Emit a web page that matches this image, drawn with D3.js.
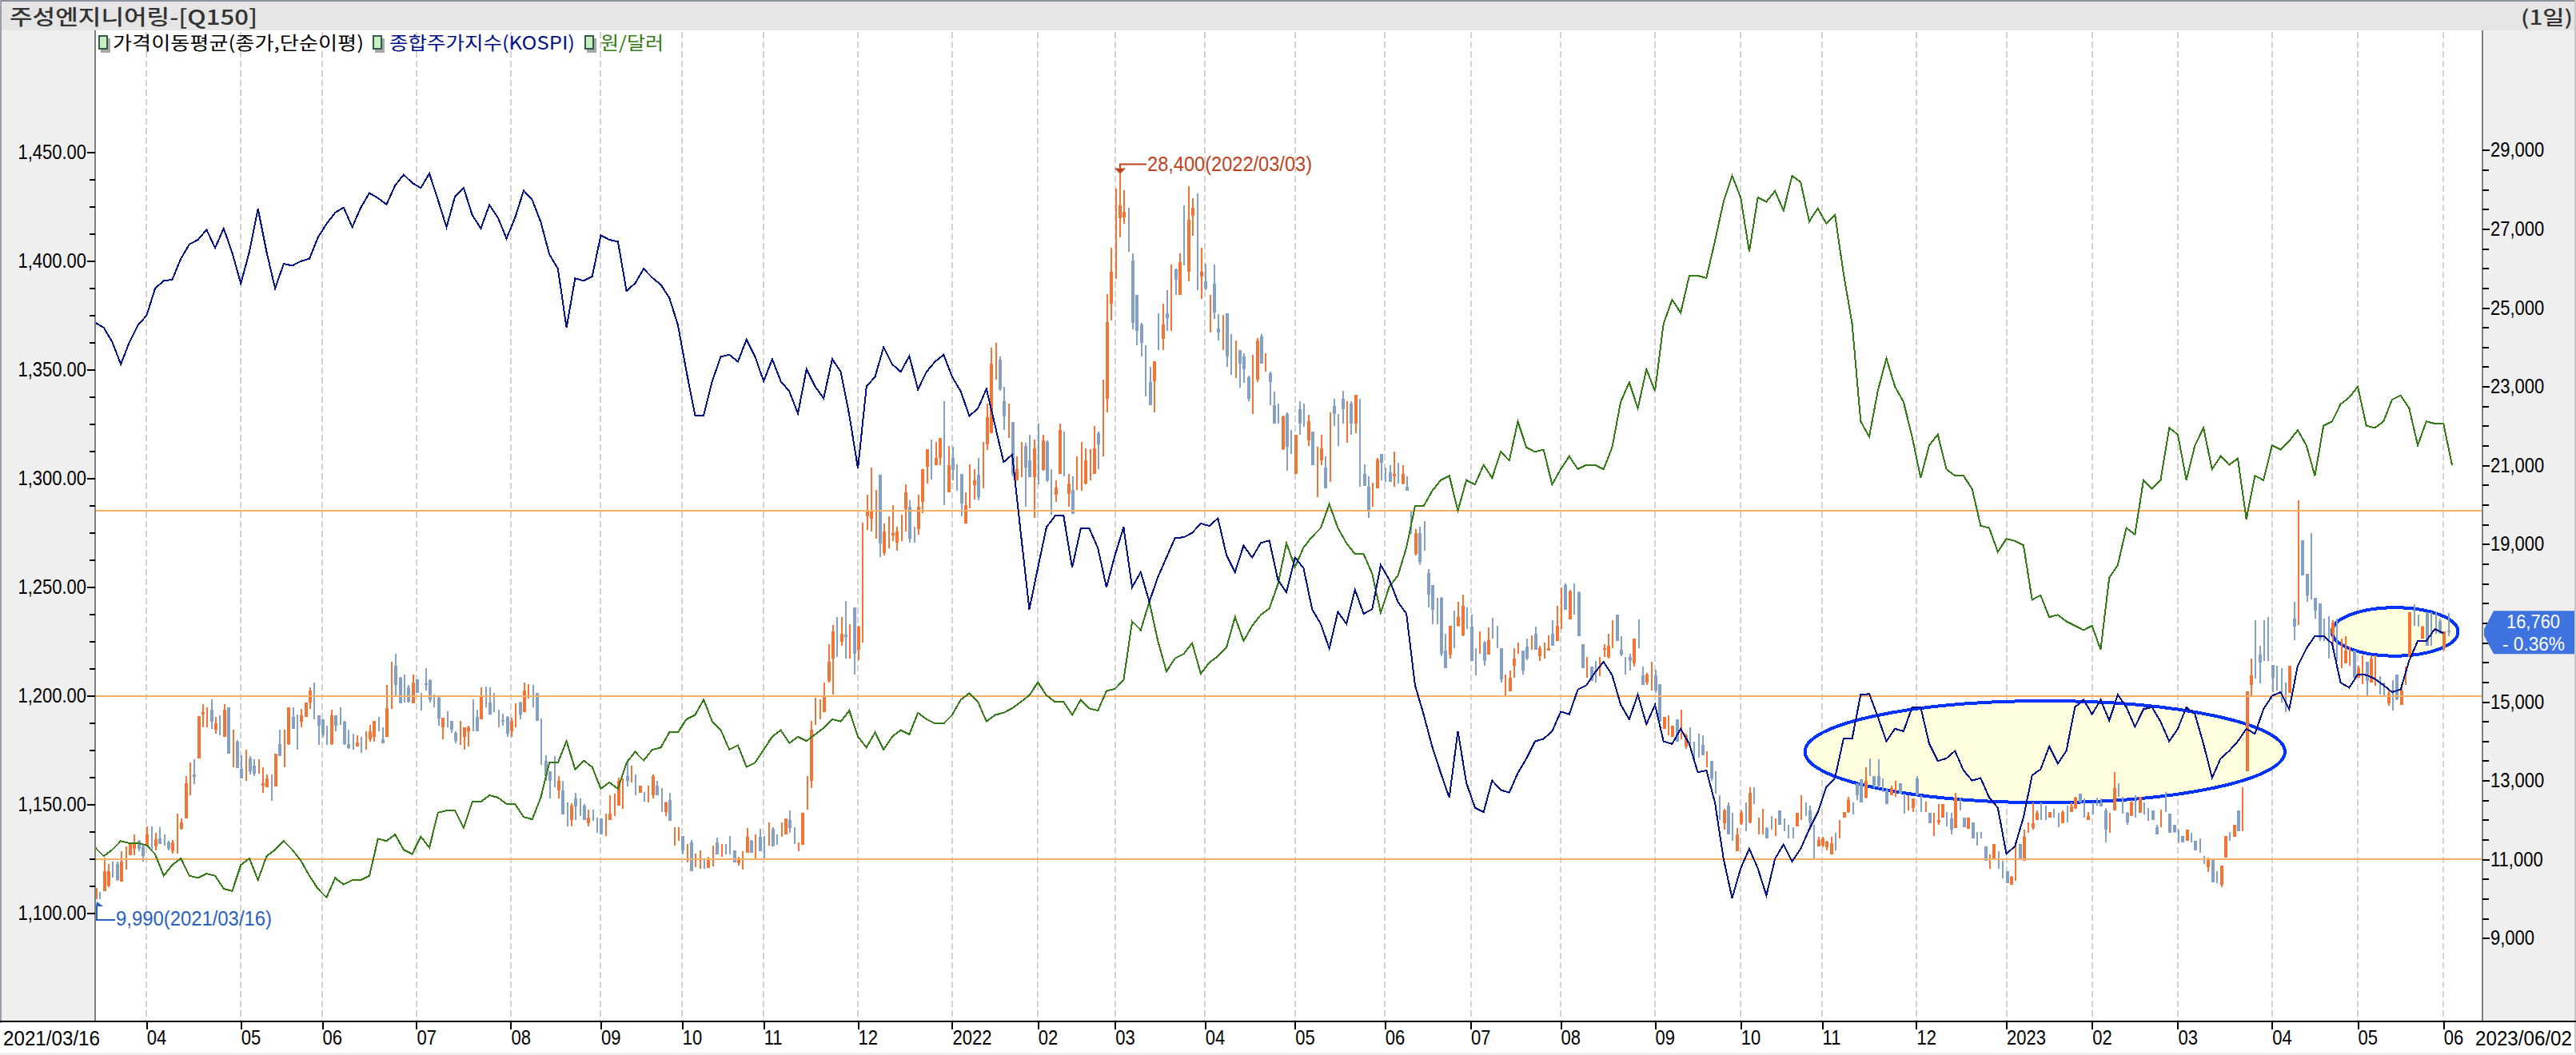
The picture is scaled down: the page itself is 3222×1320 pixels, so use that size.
<!DOCTYPE html>
<html><head><meta charset="utf-8">
<script src="https://cdn.jsdelivr.net/npm/d3@7/dist/d3.min.js"></script>
<style>
html,body{margin:0;padding:0;background:#fff;overflow:hidden}
svg{display:block}
.num{font-family:"Liberation Sans",sans-serif;font-size:25px}
.kr{font-family:"Noto Sans CJK KR",sans-serif}
</style></head><body>
<svg id="c" width="3222" height="1320"></svg>
<script>
const titleText = "주성엔지니어링-[Q150]";
const periodText = "(1일)";
const legendNames = ["가격이동평균(종가,단순이평)", "종합주가지수(KOSPI)", "원/달러"];
const monthTickDays = [12,34,53,75,97,118,137,156,178,200,220,238,259,280,301,321,342,364,384,403,425,446,466,486,508,528,548];
const monthTickLabels = ["04","05","06","07","08","09","10","11","12","2022","02","03","04","05","06","07","08","09","10","11","12","2023","02","03","04","05","06"];
const startDateLabel = "2021/03/16", endDateLabel = "2023/06/02";
const leftMajorTicks = [1100,1150,1200,1250,1300,1350,1400,1450];
// 17,000 sits under the last-price tag in the reference, so it has no visible label
const rightMajorTicks = [9000,11000,13000,15000,19000,21000,23000,25000,27000,29000];
const supportLevels = [19850,15150,11000];
const sampleStep = 2;
// KOSPI, every second trading day
const kospiValues = [
3069,3061,3038,3003,3038,3065,3080,3123,3135,3137,3170,3193,3200,3216,3187,3218,3179,3131,3181,3249,3181,3123,3162,3159,3166,3170,3204,3225,3243,3251,3220,3251,3274,3266,3256,3286,3303,3290,3282,3305,3263,3220,3269,3282,3239,3218,3255,
3235,3202,3235,3278,3263,3228,3177,3154,3061,3139,3135,3142,3207,3200,3197,3119,3131,3154,3140,3129,3108,3065,2991,2922,2922,2976,3015,3018,3007,3042,3015,2976,3011,2976,2960,2925,2995,2968,2949,3011,2991,2922,2838,2968,2983,3030,3003,
2991,3016,2963,2991,3007,3018,2983,2960,2921,2933,2964,2906,2848,2860,2736,2615,2681,2745,2763,2763,2681,2743,2743,2712,2650,2701,2745,2650,2674,2627,2666,2697,2728,2729,2736,2751,2747,2759,2701,2674,2716,2697,2720,2724,2662,2642,2697,
2680,2615,2592,2553,2611,2592,2646,2608,2615,2685,2662,2627,2608,2495,2449,2398,2356,2317,2422,2340,2301,2294,2344,2329,2325,2356,2379,2406,2410,2422,2453,2449,2488,2495,2515,2532,2511,2464,2441,2480,2433,2464,2406,2402,2426,2402,
2357,2360,2309,2220,2158,2205,2236,2205,2162,2220,2243,2216,2236,2267,2294,2334,2348,2410,2410,2480,2481,2445,2406,2426,2422,2460,2460,2402,2375,2379,2391,2360,2344,2348,2317,2301,2228,2240,2286,2352,2362,2398,2371,2391,2460,2472,2449,
2472,2439,2480,2460,2429,2457,2460,2437,2406,2426,2460,2449,2402,2348,2379,2391,2406,2426,2418,2457,2478,2484,2457,2526,2553,2573,2573,2561,2499,2491,2512,2511,2505,2495,2484,2488,2534,2565,2565,2584,2577];
// won per dollar, every second trading day
const krwValues = [
1130,1126,1129,1133,1132,1132,1131,1127,1117,1122,1125,1117,1116,1118,1117,1111,1110,1122,1125,1115,1126,1129,1133,1129,1124,1117,1111,1107,1116,1113,1115,1115,1117,1134,1133,1136,1129,1127,1135,1130,1146,1147,1147,1139,1151,1151,1154,
1153,1150,1150,1144,1143,1153,1169,1169,1179,1166,1170,1167,1157,1160,1157,1169,1174,1170,1175,1176,1183,1183,1189,1191,1198,1188,1184,1175,1177,1167,1169,1175,1181,1184,1178,1181,1179,1182,1185,1189,1188,1193,1181,1176,1183,1175,1181,
1184,1182,1192,1189,1187,1187,1191,1198,1201,1197,1188,1191,1192,1194,1197,1200,1206,1200,1197,1197,1191,1198,1194,1193,1202,1203,1207,1234,1230,1243,1225,1211,1217,1219,1224,1210,1215,1218,1222,1236,1225,1232,1237,1240,1251,1270,1259,
1268,1273,1277,1288,1277,1270,1265,1265,1256,1238,1250,1255,1268,1287,1287,1294,1299,1301,1285,1299,1297,1306,1300,1312,1308,1326,1314,1312,1313,1297,1304,1310,1304,1306,1306,1304,1314,1335,1344,1332,1350,1340,1371,1382,1376,1393,
1393,1392,1409,1427,1439,1429,1404,1429,1427,1432,1423,1439,1436,1418,1424,1417,1421,1394,1371,1326,1319,1340,1355,1342,1335,1319,1300,1315,1320,1304,1301,1301,1295,1278,1277,1266,1272,1271,1269,1244,1246,1236,1237,1234,1232,1230,1232,
1221,1254,1260,1277,1274,1299,1295,1299,1323,1320,1299,1315,1323,1304,1310,1306,1309,1281,1301,1299,1315,1313,1317,1322,1315,1301,1324,1326,1334,1337,1342,1324,1323,1326,1336,1338,1332,1315,1326,1325,1325,1306];
// open, high, low, close for each trading day
const candles2021 = [
[9990,10270,9990,10270],[10110,10180,10000,10100],[10200,11050,10200,10700],[10330,10880,10300,10700],[10700,10950,10540,10690],[10880,10950,10450,10470],[10430,11200,10430,10950],[10900,11320,10740,10900],[11110,11420,11110,11380],[11260,11630,11110,11380],
[11470,11500,11200,11260],[11320,11380,10950,11090],[11340,11840,11340,11630],[11510,11840,11200,11500],[11320,11670,11220,11510],[11530,11820,11380,11380],[11450,11630,11340,11440],[11440,11470,11220,11260],[11200,11500,11140,11420],[11600,12160,11140,11600],
[11780,12040,11750,11940],[12040,13120,12040,12930],[13000,13460,12620,13000],[13150,13530,12910,13100],[13550,14630,13550,14630],[14670,14940,14360,14740],[14600,14860,14360,14600],[14800,15070,14320,14490],[14280,14610,14180,14450],[14400,14650,14150,14390],
[14110,14940,14110,14800],[14860,14860,13680,13680],[14000,14300,13330,14000],[13990,14020,13310,13310],[13290,13640,13060,13060],[13400,13780,13000,13400],[13550,13620,13160,13240],[13370,13530,13120,13180],[13350,13530,13180,13350],[12870,13330,12680,12930],
[12830,13160,12830,13060],[12900,13160,12490,12890],[12860,13680,12860,13680],[13930,14300,13620,13620],[13900,14300,13330,13900],[13930,14860,13910,14860],[14610,14860,14320,14320],[14250,14670,13780,14240],[14490,14820,14360,14650],[14610,14980,14610,14980],
[14980,15360,14820,15290],[14950,15480,14550,14940],[14650,14650,13900,14400],[14550,14550,14110,14170],[14100,14400,13900,14090],[13930,14800,13900,14650],[14650,14650,14240,14400],[14650,14860,14420,14640],[14490,14510,13900,13930],[13930,14300,13800,13830],
[14000,14180,13780,13990],[13870,14150,13870,13960],[13950,14110,13700,13940],[14000,14240,13780,14000],[14050,14420,13990,14240],[14110,14510,13990,14510],[14400,14610,14240,14390],[14050,14360,13950,13950],[14100,15420,14100,14830],[15400,16020,14820,15400],
[15910,16220,15140,15420],[15600,15630,14960,14960],[15300,15690,14980,15290],[15360,15420,14980,15010],[14960,15690,14960,15480],[15570,15570,15230,15230],[15000,15230,14770,14990],[15460,15850,15290,15420],[15540,15570,14980,15050],[15000,15190,14860,14990],
[15110,15140,14400,14580],[14360,14600,14050,14600],[14500,14760,14360,14490],[14520,14520,14200,14300],[14200,14240,13950,14000],[14200,14510,13910,14200],[14110,14360,13780,14360],[14240,14390,13870,14360],[14600,15070,14240,14590],[14610,14800,14240,14240],
[14550,15360,14550,15170],[15100,15380,14860,15090],[14980,15360,14670,14670],[14900,15230,14740,14890],
[14600,14800,14360,14590],[14540,14690,14400,14490],[14610,14630,14110,14180],[14240,14590,14110,14520],[14500,14960,14360,14500],[14980,15010,14550,14670],[14740,15480,14740,15290],[15200,15440,15080,15200],[15100,15420,14860,15090],[15230,15230,14510,14510],
[14000,14580,13390,13990],[13490,13640,13000,13120],[13240,13240,12540,13000],[13000,13620,12830,12990],[12750,13120,12540,13000],[12750,13000,12130,12130],[12200,12440,11840,12190],[12000,12430,11840,12370],[12540,12680,12000,12340],[12200,12540,12090,12190],
[12370,12410,12000,12000],[11920,12270,11840,12060],[12150,12270,11970,12140],[11950,12060,11670,11940],[12040,12040,11630,11630],[11900,12160,11590,11900],[12000,12620,12000,12160],[12300,12660,12090,12300],[12370,13080,12370,13000],[12700,13060,12280,12700],
[13120,13530,12860,13000],[13100,13380,12960,13100],[13000,13160,12620,12990],[12680,12870,12680,12870],[12600,12710,12460,12590],[12600,12870,12440,12600],[12620,13160,12540,13120],[12870,12990,12620,12620],[12600,12810,12210,12590],[12210,12470,12090,12440],
[12500,12680,11970,11970],[11400,11820,11350,11400],[11600,11820,11470,11600],[11590,11590,11130,11220],[11100,11380,10920,11100],[11440,11500,10700,10700],[10900,11150,10800,10900],[11000,11220,10770,11000],[10920,11010,10760,10910],[10790,11070,10790,11000],
[11000,11340,10820,11000],[11420,11550,11130,11130],[11120,11380,11070,11120],[11300,11380,11130,11290],[11300,11590,11130,11290],[11220,11220,10920,10920],[10900,11070,10850,11000],[11000,11200,10750,11000],[11160,11790,11160,11570],[11470,11500,11160,11160],
[11200,11630,11030,11200],[11570,11770,11200,11200],[11400,11590,11030,11390],[11400,11940,11340,11400],[11770,11820,11320,11320],[11500,11630,11370,11490],[11700,11940,11570,11700],[11630,12040,11630,12040],[12000,12240,11670,11800],[11500,11820,11380,11490],
[11300,11420,11200,11300],[11360,12190,11360,12190],[12300,13120,12260,12300],[13000,14510,12810,14300],[14800,15110,14420,14800],[14800,15070,14550,14800],[14740,15480,14740,15170],[15520,16470,15480,16020],[16100,16940,15190,16780],[16600,17160,16140,16590],
[16530,17160,16410,16720],[16700,17550,16100,16650],[16500,16970,16100,16500],[17400,17400,15690,16220],[16310,16930,16060,16910],[19000,19540,16510,19000],[19700,20260,19370,19830],[19640,20940,19330,19830],[19800,20380,19140,19800],[20760,20760,18670,19020],
[18770,19520,18710,19330],[19300,19700,18890,19300],[19210,19990,19080,19290],
[19040,19450,18830,19330],[19400,19740,19080,19400],[19890,20510,19330,20320],[19950,20110,19040,19140],[19200,19450,19040,19190],[19390,20260,19240,19950],[20070,20910,19790,20910],[20960,21400,20530,21400],[20700,21650,20630,20690],[21010,21600,21010,21190],
[21190,21690,21010,21690],[20500,22620,19990,20490],[20320,21500,20320,21010]];
const candles2022 = [
[21190,21470,20610,20880],[20700,21030,20360,20690],[20790,20790,19700,20040],[19520,20320,19520,19990],[20000,21030,19910,20000],[20490,20910,20140,20610],[20760,21190,20110,20200],[20800,21600,20410,20800],[21540,22560,21380,22220],[21810,23990,21810,23590],
[23500,24110,23180,23500],[23680,23760,22900,22930],[22620,23000,21900,22250],[22000,22560,21690,22000],[22100,22100,20730,20760],[20610,21230,20610,20910],[20900,21600,20700,20900],[21500,21570,19950,20950],[21130,21770,20700,20700],[20700,21650,19670,21440],
[21500,22060,20510,21490],[20880,21770,20860,21630],[21600,21630,20570,20610],[20000,20910,19740,19990],[20260,20610,20070,20440],[20780,22060,20780,21900],[21500,21850,20730,21490],[20280,20790,19950,20530],[20380,20730,19760,19760],[20800,21230,20380,20800],
[21000,21600,20360,21000],[20530,21440,20510,21130],[20900,21400,20610,20900],[20780,22000,20780,21440],[21810,21850,20910,21530],[22000,23180,21230,22000],[22680,25350,22350,24640],[25100,26530,24670,25910],[26500,28020,25730,26500],[27280,28400,26780,27590],
[27300,27990,27130,27440],[27000,27530,26410,26990],[26200,26380,24460,24610],[25330,25330,24050,24420],[24580,24610,23760,24110],[23500,24050,22740,23490],[23120,23490,22520,22520],[23140,23640,22350,23640],[24000,24860,23920,23990],[24210,25100,23920,24580],
[24860,25450,24420,24730],[24500,26100,24420,24500],[25970,26000,25320,25720],[25320,26380,25320,26160],[26500,27590,26070,26490],[25910,28090,25660,27240],[27340,27770,26820,27530],[26500,27900,25440,26490],[25790,26530,25230,25910],[25660,26120,25450,25480],
[24900,25330,24380,24900],[25600,26100,24710,24880],[24480,24830,24170,24380],[24400,24820,23920,24400],[24860,24860,23490,23760],[24000,24330,23300,23990],[23700,24170,23220,23700],[23920,23920,22970,23590],[23760,23840,23090,23430],[23240,23270,22620,22680],
[23000,23800,22310,23000],[23180,24230,23120,24170],[24260,24330,23580,23580],[23600,23840,23370,23600],[23340,23370,22520,23120],[22520,22870,22060,22060],[22300,22560,22060,22290],[21400,22270,21380,22250],[22310,22350,20860,21480],[21800,21900,21280,21790],
[20780,21780,20780,21780],
[22430,22620,21780,22060],[22100,22560,21980,22090],[21630,22280,21500,22120],[21850,21850,21010,21010],[21000,21480,20200,21000],[21130,21780,21010,21440],[20940,21230,20410,20410],[21000,22350,20570,21000],[22500,22680,22000,22310],[21500,22310,21500,21490],
[22680,22890,22060,22430],[21500,22620,21570,21500],[22560,22620,21780,22060],[22060,22780,21810,22780],[21000,22680,20450,20990],[20790,21030,20480,20480],[20450,20730,19670,19830],[20000,20560,19950,20000],[20410,21190,20410,21150],[21280,21280,20610,21070],
[20700,20940,20570,20690],[20820,21010,20570,20570],[20730,21350,20450,20780],[20800,21070,20530,20790],[20530,21010,20510,20780],[20450,20720,20360,20360],[19400,19830,19250,19390],[18750,19390,18710,19270],[19270,19450,18460,18540],[19000,19580,18830,18990],
[18270,18360,17400,17720],[17960,17960,16970,17340],[17200,17630,16970,17190],[17630,17650,16160,16220],[16290,16720,15860,15860],[16190,16930,16100,16930],[16900,17310,16350,16890],[16930,17530,16910,17160],[16680,17720,16660,17430],[17000,17400,16850,16990],
[16910,17220,16040,16040],[16000,16350,15670,15990],[16500,16780,16220,16500],[16510,16535,15910,16040],[16190,16880,16190,16560],[16600,17130,16600,16590],[16400,16930,16350,16390],[16350,16350,15480,15560],[15200,15690,15170,15200],[15270,15790,15270,15600],
[15920,16350,15600,16100],[16300,16510,16220,16300],[16290,16290,15690,15790],[16390,16600,16060,16100],[16400,16680,16310,16400],[16720,16910,16310,16310],[16160,16410,16040,16350],[16300,16510,16090,16300],[16290,16680,16290,16350],[16720,17060,16410,16410],
[16535,17430,16535,16930],[17000,17900,16850,17000],[17960,18000,17340,17340],[17090,17840,17090,17800],[17500,18000,17220,17490],[17780,17800,16660,16660],[16470,16470,15860,15860],[15800,16140,15600,15800],[15890,15890,15520,15520],[15800,16040,15480,15790],
[15800,16140,15640,15800],[16310,16470,16140,16350],[16140,16720,16100,16410],[16600,17060,16350,16600],[17220,17220,16535,16535],[16310,16660,16160,16190],[15900,16140,15690,15890],[16140,16220,15790,16040],[15980,16600,15890,16600],[16700,17090,16350,16690],
[15670,15890,15420,15420],[15480,15730,15420,15690],[15600,16010,15290,15600],[15670,15810,15230,15290],[15440,15440,14490,14490],[14320,14610,14320,14610],[14300,14650,14150,14300],[14110,14400,14110,14390],[14550,14550,13990,13990],[14300,14800,14050,14300],
[13870,14190,13800,14150],[14000,14360,13870,13990],[13700,13990,13550,13690],
[13900,14180,13580,13890],[13900,14150,13650,13650],[13500,13740,13330,13500],[13490,13490,13000,13060],[13000,13240,12660,12990],[12400,12620,12000,12390],[11920,12290,11750,12250],[12370,12440,11630,11630],[11800,12190,11470,11790],[11200,11790,11200,11630],
[11920,12250,11880,12190],[12000,12440,11720,11990],[11940,12830,11920,12680],[12450,12830,12410,12440],[11800,12060,11630,11800],[11800,12290,11630,11800],[11790,11820,11530,11530],[11900,12090,11750,11890],[11800,12040,11590,11800],[12250,12250,11880,11880],
[11800,12040,11720,11790],[11700,11880,11530,11690],[11700,11820,11530,11690],[11840,12190,11840,12190],[12300,12620,12000,12300],[12300,12440,12090,12290],[12250,12370,11750,11940],[11500,11880,11010,11490],[11320,11570,11320,11500],[11340,11570,11300,11540],
[11300,11470,11220,11450],[11130,11570,11130,11400],[11400,11670,11220,11390],[11600,12000,11530,11600],[12060,12210,12060,12200],[12200,12580,12190,12500],[12250,12440,12130,12240],[12930,12930,12500,12620],[13030,13030,12440,12440],[12560,13330,12540,13000],
[13200,13550,13120,13190],[13120,13120,12810,12870],[13120,13530,12810,12870],[12900,13060,12710,12890],[12740,12810,12400,12400],[12620,12870,12620,12800],[12700,13000,12580,12700],[12930,12930,12660,12660],[12300,12660,12160,12290],[12400,12620,12250,12400],
[12310,12540,12210,12540],[13060,13120,12620,12620],[12400,12620,12210,12390],[12300,12460,12210,12300],[12190,12190,11920,11920],[11800,12190,11590,11800],[11940,12410,11880,12000],[12060,12410,12060,12410],[11950,12210,11840,11940],[12040,12190,11630,11750],
[11790,12680,11790,12560],[12400,12560,12250,12390],[12060,12060,11820,11820],[11770,12060,11770,12060],[11940,11940,11530,11530],[11500,11690,11340,11490],[11600,11690,11530,11590],[11320,11320,10970,10970],[10900,11130,10760,10900],[11010,11380,11010,11380],
[11000,11200,10760,10990],[10800,10970,10510,10790]];
const candles2023 = [
[10700,10700,10390,10390],[10350,10580,10350,10550],[11000,11420,10450,11000],[11380,11380,11010,11010],[10970,11750,10970,11570],[11800,11940,11670,11800],[11790,12440,11750,11920],[12000,12250,12000,12190],[12100,12440,12000,12090],[12100,12370,12000,12090],
[12060,12210,12060,12200],[12100,12290,12060,12090],[12000,12190,11820,11990],[11920,12250,11920,12200],[12100,12370,11940,12090],[12210,12440,12210,12350],[12290,12590,12290,12560],[12660,12660,12440,12440],[12300,12540,12060,12290],[12000,12210,12000,12100],
[12300,12440,12130,12290],
[12400,12560,12370,12390],[12450,12540,12340,12340],[12250,12310,11440,11750],[11900,12190,11670,11900],[12250,13210,12250,12810],[12700,12930,12590,12690],[12400,12590,12160,12390],[12190,12210,11880,11940],[12090,12500,12090,12450],[12300,12620,12060,12290],
[12190,12580,12190,12580],[12300,12440,12130,12290],[12100,12310,11970,12090],[12250,12250,12000,12000],[11820,11880,11630,11630],[11850,12270,11820,11850],[12400,12710,12210,12390],[12160,12160,11670,11670],[11880,11880,11670,11700],[11600,11750,11440,11590],
[11590,11590,11420,11420],[11470,11750,11470,11750],[11550,11670,11440,11540],[11470,11470,11220,11220],[11300,11540,11170,11290],[11000,11090,10880,10990],[10800,11040,10670,11010],[10980,10980,10425,10425],[10600,10700,10390,10590],[10350,10850,10300,10850],
[11050,11590,11050,11590],[11500,11690,11470,11490],[11570,11880,11570,11880],[12250,12250,11720,11720],[12000,12830,11720,12000],[13240,15260,13240,15260],[15420,16090,15140,15670],[16500,17060,15580,16490],[16200,16410,15470,16000],[16500,17060,16040,16490],
[17000,17150,16040,16990],[15940,15940,15240,15600],[15600,15910,15280,15590],[15300,15850,14980,15290],[15000,15480,14740,14990],[15230,15910,15230,15910],[17100,17530,16570,16900],[18000,20110,16950,18000],[19090,19090,18200,18200],[18250,18250,17530,17700],
[18000,19290,17590,17990],[17630,17630,17100,17320],[17500,17500,16535,16600],[16900,17100,16535,16890],[17000,17170,16100,16990],[16720,17060,16390,17000],[16700,17100,16040,16690],[16200,16600,15850,16200],[15980,16660,15980,16290],[16000,16390,15910,16000],
[16290,16290,15600,15600],[15600,15910,15600,15850],[15800,16170,15450,15800],[16020,16020,15170,15520],[15480,16170,15480,16100],[15700,16170,15400,15700],[15400,15640,15190,15390],[15350,15480,15140,15340],[14960,15290,14900,15200],[15200,15540,14770,15190],
[15690,15690,15050,15070],[14920,15360,14920,15290],[15500,15890,15420,15500],[16130,17280,16130,17280],[17000,17470,16930,16990],[16900,17220,16900,16890],[16600,16930,16600,16900],[17280,17280,16410,16410],[16800,17280,16430,16790],[17000,17280,16720,16990],
[17050,17100,16720,16750],[16350,16780,16290,16780],[16800,17250,16660,16760]];
const highlightDays = [[399,511],[522,551.4]];
const highlightPrices = [[15020,12440],[17390,16160]];
const maxMark = {day:239, price:28400, label:"28,400(2022/03/03)"};
const minMark = {day:0, price:9990, label:"9,990(2021/03/16)"};
const lastPrice = 16760, lastChange = "- 0.36%";

const candles = candles2021.concat(candles2022, candles2023);
const W=3222, plotL=119, plotR=3105, plotT=38, plotB=1278;
const x = d3.scaleLinear().domain([0,549]).range([119,3061.6]);
const yR = d3.scaleLinear().domain([9000,29000]).range([1173.8,187.8]);
const yL = d3.scaleLinear().domain([1100,1450]).range([1142,190]);
const yK = d3.scaleLinear().domain([2155,3305]).range([1126,217]);
const svg = d3.select("#c");
const css = {up:"#f27535",down:"#84a0c4",kospi:"#00108c",krw:"#317a14",ref:"#f8b066",grid:"#d2d2d2",hl:"#0033ff",fill:"#ffffe0",tag:"#3f73e0",maxc:"#c0421c",minc:"#2a60c0",panel:"#efefef",bar:"#e5e5e5",frame:"#808080"};

svg.append("rect").attr("width",W).attr("height",1320).attr("fill","#fff");
svg.append("rect").attr("x",0).attr("y",38).attr("width",plotL).attr("height",plotB-38).attr("fill",css.panel);
svg.append("rect").attr("x",plotR).attr("y",38).attr("width",W-plotR).attr("height",plotB-38).attr("fill",css.panel);
svg.append("rect").attr("x",0).attr("y",0).attr("width",W).attr("height",38).attr("fill",css.bar);
svg.append("rect").attr("x",0).attr("y",0).attr("width",W).attr("height",2).attr("fill","#8a8f9a");
svg.append("rect").attr("x",0).attr("y",0).attr("width",2).attr("height",1280).attr("fill","#9a9ea8");
svg.append("rect").attr("x",3220).attr("y",0).attr("width",2).attr("height",1320).attr("fill","#c8c8c8");
svg.append("rect").attr("x",0).attr("y",1317).attr("width",W).attr("height",3).attr("fill",css.panel);

// header
svg.append("text").attr("class","kr").attr("x",12).attr("y",31).attr("font-size",26).attr("font-weight",500).attr("fill","#333").attr("textLength",310).attr("lengthAdjust","spacingAndGlyphs").text(titleText);
svg.append("text").attr("class","kr").attr("x",3153).attr("y",31).attr("font-size",25).attr("font-weight",500).attr("fill","#333").attr("textLength",65).attr("lengthAdjust","spacingAndGlyphs").text(periodText);

// month grid
svg.append("g").selectAll("line").data(monthTickDays).join("line")
 .attr("x1",d=>Math.round(x(d))).attr("x2",d=>Math.round(x(d))).attr("y1",40).attr("y2",plotB)
 .attr("stroke",css.grid).attr("stroke-width",2).attr("stroke-dasharray","8 4").attr("shape-rendering","crispEdges");

// legend
const legendX=[123,466,731], legendTextX=[141,487,751], legendColor=["#000","#00108c","#317a14"], legendLen=[314,232,79];
const lg=svg.append("g");
legendNames.forEach((n,i)=>{
 lg.append("rect").attr("x",legendX[i]+3).attr("y",48).attr("width",12).attr("height",18).attr("fill","#a8a8a8");
 lg.append("rect").attr("x",legendX[i]+1).attr("y",45).attr("width",10).attr("height",16).attr("fill","#c6f0c0").attr("stroke","#35584c").attr("stroke-width",2);
 lg.append("text").attr("class","kr").attr("x",legendTextX[i]).attr("y",62).attr("font-size",23).attr("fill",legendColor[i]).attr("textLength",legendLen[i]).attr("lengthAdjust","spacingAndGlyphs").text(n);
});

// highlighted ellipses
svg.append("g").selectAll("ellipse").data(highlightDays).join("ellipse")
 .attr("cx",d=>(x(d[0])+x(d[1]))/2).attr("rx",d=>(x(d[1])-x(d[0]))/2)
 .attr("cy",(d,i)=>(yR(highlightPrices[i][0])+yR(highlightPrices[i][1]))/2)
 .attr("ry",(d,i)=>(yR(highlightPrices[i][1])-yR(highlightPrices[i][0]))/2)
 .attr("fill",css.fill).attr("stroke",css.hl).attr("stroke-width",4).attr("shape-rendering","crispEdges");

// candles
const cg=svg.append("g").attr("shape-rendering","crispEdges");
const color=d=>d[3]<d[0]?css.down:css.up;
cg.selectAll("rect.w").data(candles).join("rect").attr("class","w")
 .attr("x",(d,i)=>Math.round(x(i))).attr("width",2)
 .attr("y",d=>yR(d[1])).attr("height",d=>yR(d[2])-yR(d[1])).attr("fill",color);
cg.selectAll("rect.b").data(candles.filter(d=>Math.abs(d[0]-d[3])>20)).join("rect").attr("class","b")
 .attr("x",d=>Math.round(x(candles.indexOf(d)))-1).attr("width",4)
 .attr("y",d=>yR(Math.max(d[0],d[3]))).attr("height",d=>Math.max(1,Math.abs(yR(d[0])-yR(d[3])))).attr("fill",color);

// support levels
svg.append("g").selectAll("line").data(supportLevels).join("line")
 .attr("x1",plotL).attr("x2",plotR).attr("y1",d=>Math.round(yR(d))).attr("y2",d=>Math.round(yR(d)))
 .attr("stroke",css.ref).attr("stroke-width",2).attr("shape-rendering","crispEdges");

// lines
const lineFor=y=>d3.line().x((d,i)=>x(i*sampleStep)).y(d=>y(d));
svg.append("path").datum(krwValues).attr("d",lineFor(yL)).attr("fill","none").attr("stroke",css.krw).attr("stroke-width",2).attr("shape-rendering","crispEdges");
svg.append("path").datum(kospiValues).attr("d",lineFor(yK)).attr("fill","none").attr("stroke",css.kospi).attr("stroke-width",2).attr("shape-rendering","crispEdges");

// frame
svg.append("rect").attr("x",plotL-1).attr("y",38).attr("width",2).attr("height",plotB-38).attr("fill",css.frame);
svg.append("rect").attr("x",plotR-1).attr("y",38).attr("width",2).attr("height",plotB-38).attr("fill",css.frame);
svg.append("rect").attr("x",0).attr("y",plotB-1).attr("width",W).attr("height",2).attr("fill","#000");

// axes
const styleAxis=g=>{g.select(".domain").remove();g.selectAll("line").attr("stroke","#000").attr("stroke-width",2).attr("shape-rendering","crispEdges");g.selectAll("text").attr("class","num").attr("fill","#000");};
const leftMinor=d3.range(1100,1450.1,12.5).filter(v=>!leftMajorTicks.includes(v));
const rightMinor=d3.range(9000,29000.1,500).filter(v=>!rightMajorTicks.includes(v));
svg.append("g").attr("transform",`translate(${plotL},0)`).call(d3.axisLeft(yL).tickValues(leftMinor).tickSize(7).tickFormat("")).call(styleAxis);
svg.append("g").attr("transform",`translate(${plotL},0)`).call(d3.axisLeft(yL).tickValues(leftMajorTicks).tickSize(10).tickPadding(1).tickFormat(d3.format(",.2f"))).call(styleAxis);
svg.append("g").attr("transform",`translate(${plotR},0)`).call(d3.axisRight(yR).tickValues(rightMinor).tickSize(8).tickFormat("")).call(styleAxis);
svg.append("g").attr("transform",`translate(${plotR},0)`).call(d3.axisRight(yR).tickValues(rightMajorTicks).tickSize(9).tickPadding(1).tickFormat(d3.format(","))).call(styleAxis);
const xAxis=svg.append("g").attr("transform",`translate(0,${plotB})`).call(d3.axisBottom(x).tickValues(monthTickDays).tickSize(10).tickPadding(1).tickFormat((d,i)=>monthTickLabels[i])).call(styleAxis);
xAxis.selectAll("text").attr("text-anchor","start").attr("x",0).attr("y",11);

// the reference's numerals are narrower than Liberation Sans: condense the tick labels uniformly
svg.selectAll("text.num").each(function(){
  const len=this.getComputedTextLength();
  if(len>0) d3.select(this).attr("textLength",(len*0.88).toFixed(1)).attr("lengthAdjust","spacingAndGlyphs");
});

// labels fitted to the reference's own widths
const fitted=(px,py,len,fill,txt,size)=>svg.append("text").attr("class","num").attr("x",px).attr("y",py).attr("fill",fill)
  .attr("textLength",len).attr("lengthAdjust","spacingAndGlyphs").style("font-size",(size||25)+"px").text(txt);
fitted(4,1308,121,"#000",startDateLabel);
fitted(3096,1308,121,"#000",endDateLabel);

// max / min marks
const mx=x(maxMark.day)+1, my=yR(maxMark.price);
svg.append("path").attr("d",`M${mx-7},${my-7}H${mx+7}L${mx},${my}Z`).attr("fill",css.maxc);
svg.append("path").attr("d",`M${mx},${my-7}V${my-12}H${mx+33}`).attr("fill","none").attr("stroke",css.maxc).attr("stroke-width",2);
fitted(mx+34,my-3,206,css.maxc,maxMark.label);
const nx=x(minMark.day)+2, ny=yR(minMark.price);
svg.append("path").attr("d",`M${nx},${ny+3}L${nx+8},${ny+9}H${nx-1}Z`).attr("fill",css.minc);
svg.append("path").attr("d",`M${nx},${ny+9}V${ny+26}H${nx+23}`).attr("fill","none").attr("stroke",css.minc).attr("stroke-width",2);
fitted(nx+24,ny+33,195,css.minc,minMark.label);

// last-price tag
const ty=yR(lastPrice);
svg.append("path").attr("d",`M3107,${ty-4}L3119,${ty-27}H3220V${ty+27}H3119L3107,${ty+4}Z`).attr("fill",css.tag);
fitted(3135,ty-5,67,"#fff",d3.format(",")(lastPrice),23);
fitted(3130,ty+23,78,"#fff",lastChange,23);
</script></body></html>
